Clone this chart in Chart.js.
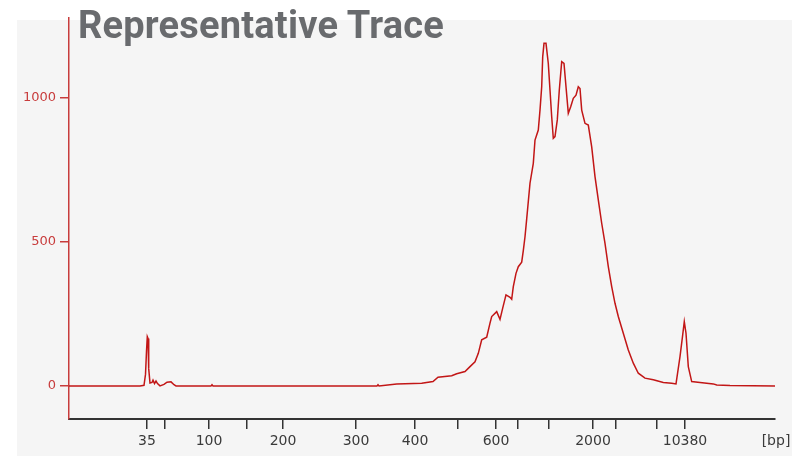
<!DOCTYPE html>
<html>
<head>
<meta charset="utf-8">
<script src="https://cdn.jsdelivr.net/npm/chart.js@4"></script>
<style>
  html, body { margin: 0; padding: 0; background: #ffffff; }
  #wrap { position: relative; width: 792px; height: 456px; }
  #title {
    position: absolute; left: 78px; top: 3px;
    font-family: Roboto, sans-serif; font-weight: 700; font-size: 38px;
    color: #696b6e; letter-spacing: 0.2px; white-space: nowrap;
  }
</style>
</head>
<body>
<div id="wrap">
  <canvas id="myChart" width="792" height="456"></canvas>
  <div id="title">Representative Trace</div>
</div>
<script>
// migration time (s) and fluorescence units
const timeSec = [
  0, 7.1, 7.5, 7.65, 7.75, 7.83, 7.9, 7.97, 8.1, 8.3, 8.4, 8.55, 8.7, 8.85, 9.1,
  9.5, 9.8, 10.2, 10.5, 10.7, 14.2, 14.3, 14.4, 30.8, 30.9, 31.0, 32.77, 35.27,
  36.4, 36.9, 38.27, 38.77, 39.6, 40.1, 40.6, 40.93, 41.27, 41.77, 42.1, 42.27,
  42.77, 43.1, 43.37, 43.7, 44.1, 44.27, 44.43, 44.7, 44.93, 45.27, 45.43, 45.6,
  45.77, 46.1, 46.43, 46.6, 46.93, 47.1, 47.27, 47.37, 47.5, 47.7, 47.93, 48.1,
  48.27, 48.43, 48.6, 48.83, 49.03, 49.27, 49.5, 49.7, 49.93, 50.17, 50.43, 50.7,
  50.93, 51.1, 51.27, 51.6, 51.93, 52.27, 52.6, 52.93, 53.27, 53.6, 53.93, 54.27,
  54.6, 54.93, 55.43, 55.93, 56.43, 56.93, 57.6, 58.43, 59.43, 60.27, 60.7, 61.1,
  61.37, 61.53, 61.7, 61.93, 62.27, 63.1, 64.43, 64.77, 66.1, 70.6
];
const fluorescence = [
  0, 0, 2, 40, 120, 171, 165, 60, 10, 12, 20, 8, 17, 8, 0,
  5, 13, 14, 4, 0, 0, 4, 0, 0, 4, 0, 7, 9,
  15, 30, 35, 42, 50, 67, 84, 113, 160, 169, 218, 241,
  258, 231, 270, 316, 308, 301, 345, 391, 414, 430, 470, 518,
  580, 704, 773, 854, 889, 958, 1039, 1143, 1190, 1190, 1120, 1028,
  935, 860, 866, 924, 1028, 1126, 1120, 1039, 947, 970, 999, 1010,
  1039, 1033, 958, 912, 906, 830, 727, 646, 565, 495, 414, 345,
  287, 241, 183, 125, 79, 44, 27, 21, 12, 9, 7, 102,
  177, 223, 183, 67, 15, 12, 7, 3, 1, 0
];

// ladder positions on the time axis and their size labels
const ladderTimes = [7.8, 9.6, 14.0, 17.8, 21.4, 28.7, 34.6, 38.9, 42.7, 44.9, 48.0, 52.4, 54.7, 58.8, 61.6];
const ladderLabels = ['35', '', '100', '', '200', '300', '400', '', '600', '', '', '2000', '', '', '10380'];
const yTicks = [0, 500, 1000];

const bgPlugin = {
  id: 'bg',
  beforeDraw(chart) {
    const ctx = chart.ctx;
    ctx.save();
    ctx.fillStyle = '#f5f5f5';
    ctx.fillRect(17, 20, chart.width - 17, chart.height - 20);
    ctx.restore();
  },
  afterDraw(chart) {
    const ctx = chart.ctx;
    const x = chart.scales.x;
    ctx.save();
    ctx.fillStyle = '#3a3a3a';
    ctx.font = '14px "DejaVu Sans"';
    ctx.textAlign = 'center';
    ctx.textBaseline = 'middle';
    ctx.fillText('[bp]', x.right + 1, x.top + 22);
    ctx.restore();
  }
};

new Chart(document.getElementById('myChart').getContext('2d'), {
  type: 'line',
  data: {
    datasets: [{
      label: 'Trace',
      data: timeSec.map((t, i) => ({ x: t, y: fluorescence[i] })),
      borderColor: '#c21616',
      borderWidth: 1.5,
      pointRadius: 0,
      tension: 0,
      fill: false
    }]
  },
  options: {
    responsive: false,
    animation: false,
    layout: { padding: { top: 18, right: 17, left: 0, bottom: 0 } },
    plugins: { legend: { display: false }, tooltip: { enabled: false } },
    scales: {
      x: {
        type: 'linear',
        min: 0,
        max: 70.6,
        afterBuildTicks: s => { s.ticks = ladderTimes.map(v => ({ value: v })); },
        afterFit: s => { s.height = 37; },
        ticks: {
          autoSkip: false,
          maxRotation: 0,
          padding: 4,
          color: '#3a3a3a',
          font: { family: 'DejaVu Sans', size: 14 },
          callback: (v, i) => ladderLabels[i]
        },
        grid: { drawOnChartArea: false, drawTicks: true, tickLength: 10, color: '#333333', lineWidth: 1.5 },
        border: { color: '#333333', width: 2 }
      },
      y: {
        min: -115,
        max: 1278,
        afterBuildTicks: s => { s.ticks = yTicks.map(v => ({ value: v })); },
        afterFit: s => { s.width = 69; },
        ticks: {
          padding: 4,
          color: '#c83c3c',
          font: { family: 'DejaVu Sans', size: 13 },
          callback: v => String(v)
        },
        grid: { drawOnChartArea: false, drawTicks: true, tickLength: 9, color: '#c83c3c', lineWidth: 1.5 },
        border: { color: '#c83c3c', width: 1.5 }
      }
    }
  },
  plugins: [bgPlugin]
});
</script>
</body>
</html>
